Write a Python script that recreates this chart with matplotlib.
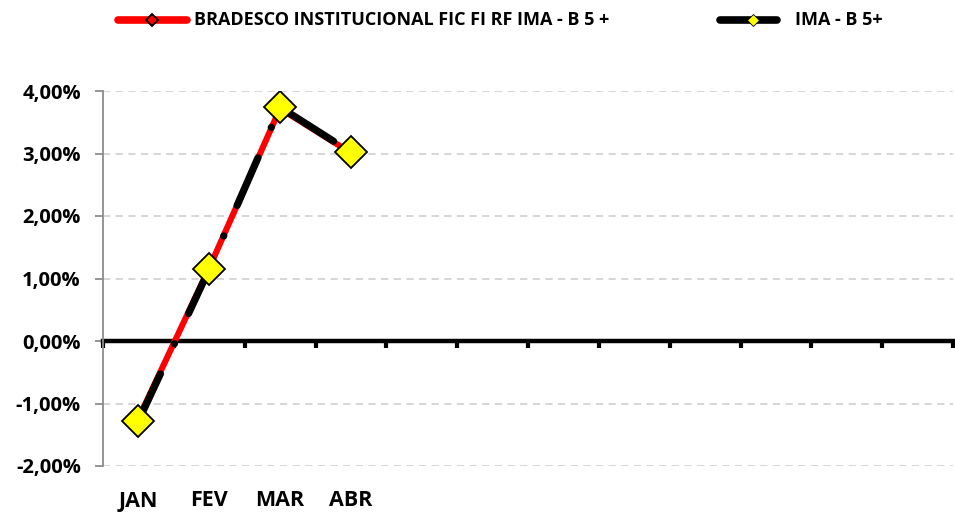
import matplotlib
matplotlib.use("Agg")
import matplotlib.pyplot as plt
from matplotlib.lines import Line2D
from matplotlib.ticker import FixedLocator, FuncFormatter

months = ["JAN", "FEV", "MAR", "ABR"]
n_slots = 12
fund_name = "BRADESCO INSTITUCIONAL FIC FI RF IMA - B 5 +"
bench_name = "IMA - B 5+"
fund_values = [-1.24, 1.17, 3.72, 3.01]
bench_values = [-1.28, 1.15, 3.74, 3.02]
y_ticks = [-2, -1, 0, 1, 2, 3, 4]

plt.rcParams['font.family'] = ['Open Sans', 'DejaVu Sans']

W, H = 955, 513
fig = plt.figure(figsize=(W / 100, H / 100), dpi=100)
ax = fig.add_axes([103 / W, 1 - 466 / H, (953 - 103) / W, (466 - 91) / H])

x = [i + 0.5 for i in range(len(months))]
ax.plot(x, fund_values, color="#ff0000", lw=4.4, solid_capstyle="round",
        solid_joinstyle="round", marker="D", markersize=6, markerfacecolor="#ff0000",
        markeredgecolor="black", markeredgewidth=1.2, zorder=3)
ax.plot(x, bench_values, color="black", lw=5.2, dashes=(7.2, 4.6, 0.01, 4.6),
        dash_capstyle="round", marker="D", markersize=16, markerfacecolor="#ffff00",
        markeredgecolor="black", markeredgewidth=1.3, zorder=4)

ax.set_xlim(0, n_slots)
ax.set_ylim(-2, 4)

for yv in y_ticks:
    if yv != 0:
        ax.axhline(yv, color="#d3d3d3", lw=1.3, dashes=(4, 3), zorder=1)

for s in ["top", "right"]:
    ax.spines[s].set_visible(False)
ax.spines["left"].set_color("#8c8c8c")
ax.spines["left"].set_linewidth(1.3)
ax.spines["bottom"].set_position(("data", 0))
ax.spines["bottom"].set_linewidth(3.2)
ax.spines["bottom"].set_color("black")
ax.spines["bottom"].set_zorder(2)

ax.yaxis.set_major_locator(FixedLocator(y_ticks))
ax.yaxis.set_major_formatter(FuncFormatter(lambda v, p: f"{v:.2f}%".replace(".", ",")))
ax.tick_params(axis="y", direction="out", length=6, width=1.3, color="#8c8c8c",
               labelsize=14.5, pad=10)
for lab in ax.get_yticklabels():
    lab.set_fontweight("bold")

ax.xaxis.set_major_locator(FixedLocator(list(range(n_slots + 1))))
ax.tick_params(axis="x", direction="out", length=5, width=3, color="black", labelbottom=False)

for xi, m in zip(x, months):
    ax.annotate(m, xy=(xi, 0), xycoords=("data", "figure fraction"),
                xytext=(xi, 1 - 501 / H), textcoords=("data", "figure fraction"),
                ha="center", va="center", fontsize=15.5, fontweight="bold")

# legend drawn manually
ly = 1 - 20 / H
fig.add_artist(Line2D([118 / W, 187 / W], [ly, ly], transform=fig.transFigure,
                      color="#ff0000", lw=5.5, solid_capstyle="round"))
fig.add_artist(Line2D([152 / W], [ly], transform=fig.transFigure, color="#ff0000",
                      marker="D", markersize=6.5, markerfacecolor="#ff0000",
                      markeredgecolor="black", markeredgewidth=1.3))
fig.text(194 / W, ly, fund_name, ha="left", va="center", fontsize=13, fontweight="bold")

fig.add_artist(Line2D([720 / W, 777 / W], [ly, ly], transform=fig.transFigure,
                      color="black", lw=5.5, solid_capstyle="round"))
fig.add_artist(Line2D([753 / W], [ly], transform=fig.transFigure, color="black",
                      marker="D", markersize=6.5, markerfacecolor="#ffff00",
                      markeredgecolor="black", markeredgewidth=0.6))
fig.text(795 / W, ly, bench_name, ha="left", va="center", fontsize=13, fontweight="bold")

fig.savefig("out.png", dpi=100)
